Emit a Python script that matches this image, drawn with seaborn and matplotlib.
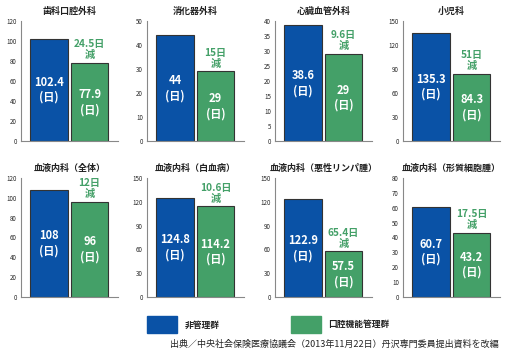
import matplotlib
matplotlib.use("Agg")
import matplotlib.pyplot as plt
import matplotlib.patches as mpatches
import seaborn as sns
import pandas as pd

# Data
titles = ["歯科口腔外科", "消化器外科", "心臓血管外科", "小児科",
          "血液内科（全体）", "血液内科（白血病）", "血液内科（悪性リンパ腫）", "血液内科（形質細胞腫）"]
non_managed = [102.4, 44, 38.6, 135.3, 108, 124.8, 122.9, 60.7]
oral_managed = [77.9, 29, 29, 84.3, 96, 114.2, 57.5, 43.2]
reduction = ["24.5日\n減", "15日\n減", "9.6日\n減", "51日\n減",
             "12日\n減", "10.6日\n減", "65.4日\n減", "17.5日\n減"]
y_max = [120, 50, 40, 150, 120, 150, 150, 80]
y_step = [20, 10, 5, 30, 20, 30, 30, 10]
groups = ["非管理群", "口腔機能管理群"]

BLUE = "#0a52a6"
GREEN = "#44a068"

sns.set_style("white")
plt.rcParams["font.family"] = ["Noto Sans CJK JP", "DejaVu Sans"]

W, H = 518, 354
fig = plt.figure(figsize=(W / 100, H / 100), dpi=100)

col_left = [21, 147, 275, 403]
row_top = [21, 178]
row_bottom = [141, 297]
ax_w = 97

for i in range(8):
    r, c = divmod(i, 4)
    left = col_left[c]
    top, bottom = row_top[r], row_bottom[r]
    ax = fig.add_axes([left / W, 1 - bottom / H, ax_w / W, (bottom - top) / H])
    df = pd.DataFrame({"group": groups, "days": [non_managed[i], oral_managed[i]]})
    sns.barplot(data=df, x="group", y="days", hue="group", palette=[BLUE, GREEN],
                saturation=1, width=0.93, edgecolor="#333333", linewidth=0.8,
                legend=False, ax=ax)
    x0, x1 = -0.69, 1.70
    ax.set_xlim(x0, x1)
    ax.set_ylim(0, y_max[i])
    ax.set_yticks(range(0, y_max[i] + 1, y_step[i]))
    ax.set_xticks([x1])
    ax.set_xticklabels([""])
    ax.tick_params(axis="x", direction="in", length=3, width=0.6, color="#777777")
    ax.tick_params(axis="y", direction="out", length=2, width=0.6, color="#777777",
                   labelsize=4.5, pad=1)
    ax.set_xlabel("")
    ax.set_ylabel("")
    for side in ["top", "right"]:
        ax.spines[side].set_visible(False)
    for side in ["left", "bottom"]:
        ax.spines[side].set_color("#888888")
        ax.spines[side].set_linewidth(0.8)
    ax.set_title(titles[i], fontsize=6.5, fontweight="bold", color="#222222", pad=5)

    vals = [non_managed[i], oral_managed[i]]
    for j, v in enumerate(vals):
        ax.text(j, v / 2, f"{v:g}\n(日)", ha="center", va="center", color="white",
                fontsize=8, fontweight="bold", linespacing=1.2)
    ax.annotate(reduction[i], xy=(1, oral_managed[i]), xytext=(0, 2),
                textcoords="offset points", ha="center", va="bottom",
                color=GREEN, fontsize=7.3, fontweight="bold", linespacing=1.1)

# Legend
fig.patches.append(mpatches.Rectangle((147 / W, 1 - 333 / H), 30 / W, 17 / H,
                                      transform=fig.transFigure, color=BLUE))
fig.text(185 / W, 1 - 325 / H, groups[0], fontsize=6.3, fontweight="bold",
         va="center", color="#222222")
fig.patches.append(mpatches.Rectangle((291 / W, 1 - 333 / H), 30 / W, 17 / H,
                                      transform=fig.transFigure, color=GREEN))
fig.text(328 / W, 1 - 325 / H, groups[1], fontsize=6.3, fontweight="bold",
         va="center", color="#222222")
fig.text(170 / W, 1 - 344 / H,
         "出典／中央社会保険医療協議会（2013年11月22日）丹沢専門委員提出資料を改編",
         fontsize=6.5, va="center", color="#222222")

fig.savefig("out.png", dpi=100)
